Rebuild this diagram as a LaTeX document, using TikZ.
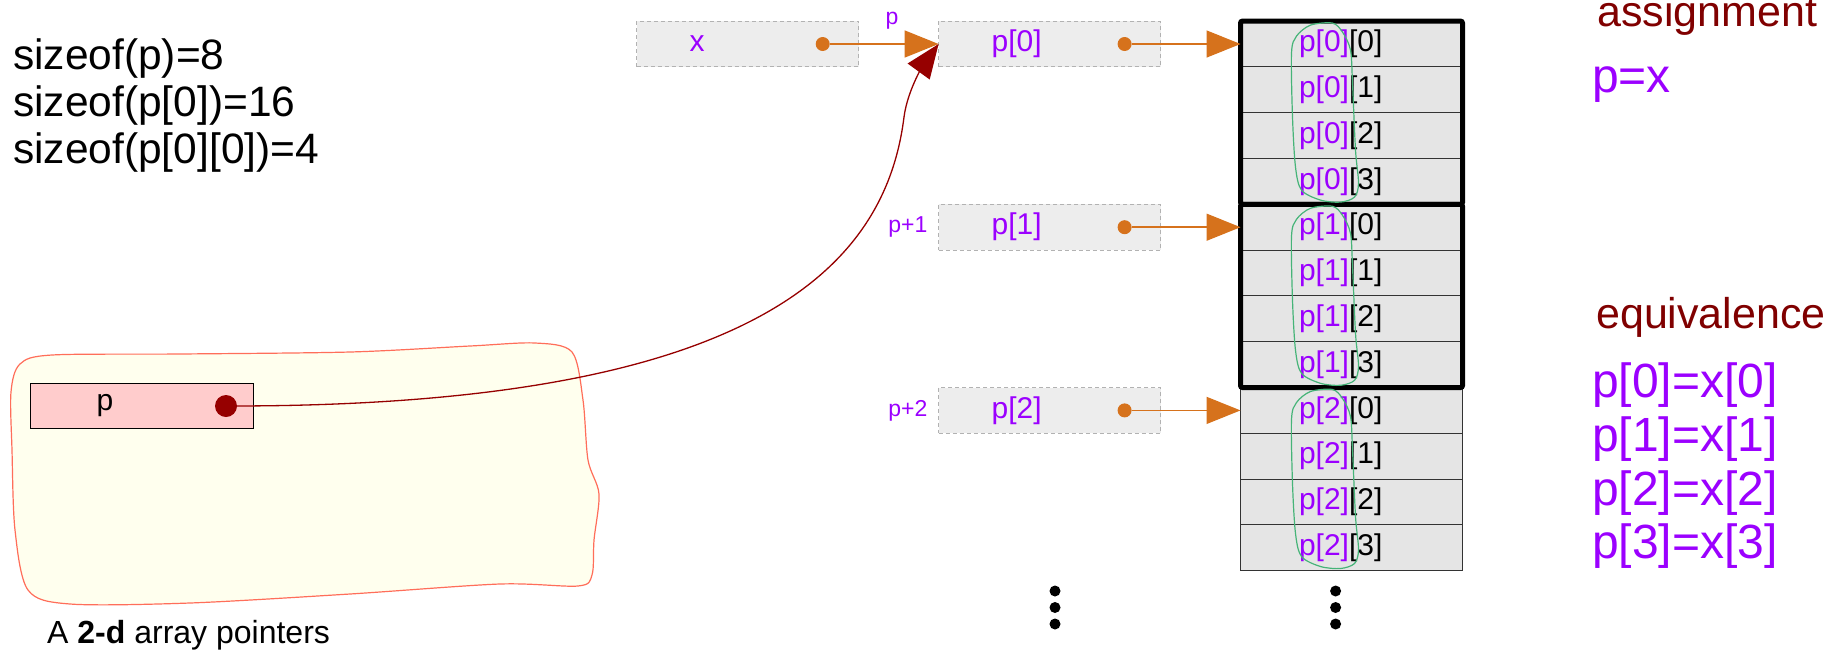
\documentclass[tikz,border=0pt]{standalone}
\usepackage{fontspec}
\setmainfont{Liberation Sans}
\setsansfont{Liberation Sans}
\usetikzlibrary{arrows.meta,positioning,fit,backgrounds}

\definecolor{ptrviolet}{RGB}{155,0,255}
\definecolor{headorange}{RGB}{214,114,28}
\definecolor{darkmaroon}{RGB}{128,0,0}
\definecolor{arrowred}{RGB}{150,0,0}
\definecolor{ringgreen}{RGB}{70,180,120}
\definecolor{blobfill}{RGB}{255,255,238}
\definecolor{blobedge}{RGB}{255,110,90}
\definecolor{pinkfill}{RGB}{255,204,204}

\begin{document}
\begin{tikzpicture}[
  x=1pt, y=-1pt,
  font=\sffamily,
  node distance=0pt,
  cell/.style={
    draw=black!80,
    line width=1.1pt,
    fill=black!10,
    outer sep=0pt,
    minimum width=222pt,
    minimum height=45.8pt,
    text width=105pt,
    inner xsep=58.5pt,
    inner ysep=0pt,
    align=left,
    font=\sffamily\fontsize{30}{35}\selectfont
  },
  ptr/.style={
    draw=black!30,
    dash pattern=on 4pt off 3pt,
    line width=1pt,
    fill=black!7,
    outer sep=0pt,
    minimum width=222pt,
    minimum height=45.8pt,
    text width=116pt,
    inner xsep=53pt,
    inner ysep=0pt,
    align=left,
    text=ptrviolet,
    font=\sffamily\fontsize{30}{35}\selectfont
  },
  pvar/.style={
    draw=black,
    line width=1pt,
    fill=pinkfill,
    minimum width=223pt,
    minimum height=45.8pt,
    text width=91pt,
    inner xsep=66pt,
    inner ysep=0pt,
    align=left,
    font=\sffamily\fontsize{30}{35}\selectfont
  },
  frame/.style={draw=black, line width=5pt, rounded corners=2pt, inner sep=0pt},
  odot/.style={circle, fill=headorange, inner sep=0pt, minimum size=14pt},
  rdot/.style={circle, fill=arrowred, inner sep=0pt, minimum size=22pt},
  vdot/.style={circle, fill=black, inner sep=0pt, minimum size=11pt},
  parrow/.style={-{Triangle[length=34pt,width=27pt]}, line width=1.5pt, draw=headorange},
  rarrow/.style={-{Triangle[length=34pt,width=27pt]}, line width=1.3pt, draw=arrowred},
  ring/.style={draw=ringgreen, line width=1.2pt},
  blob/.style={draw=blobedge, fill=blobfill, line width=1.2pt},
  tag/.style={text=ptrviolet, inner sep=0pt, font=\sffamily\fontsize{23}{27}\selectfont},
  note/.style={anchor=base west, inner sep=0pt, font=\sffamily\fontsize{42.5}{47}\selectfont},
  head/.style={anchor=base west, inner sep=0pt, text=darkmaroon, font=\sffamily\fontsize{43}{48}\selectfont},
  eqn/.style={anchor=base west, inner sep=0pt, text=ptrviolet, font=\sffamily\fontsize{48}{54}\selectfont}
]
\useasboundingbox (0,0) rectangle (1842,649);

\draw[blob] plot[smooth cycle] coordinates {(11,392) (20,364) (52,355) (180,354) (350,352) (470,346) (535,343) (572,352) (583,400) (588,460) (599,494) (594,540) (592,575) (578,586) (500,584) (350,594) (190,603) (70,604) (28,590) (15,530) (12,450)};

\node[note] (sz0) at (13,69.5) {sizeof(p)=8};
\node[note] (sz1) at (13,116.5) {sizeof(p[0])=16};
\node[note] (sz2) at (13,163.5) {sizeof(p[0][0])=4};

\node[pvar] (pbox) at (142,406) {p};
\node[rdot] (pd) at ([xshift=-28pt]pbox.east) {};
\node[anchor=base west, inner sep=0pt, font=\sffamily\fontsize{32}{38}\selectfont] (cap) at (47,643) {A \textbf{2-d} array pointers};

\node[cell] (c00) at (1351.5,44) {\textcolor{ptrviolet}{p[0]}[0]};
\node[cell, below=of c00] (c01) {\textcolor{ptrviolet}{p[0]}[1]};
\node[cell, below=of c01] (c02) {\textcolor{ptrviolet}{p[0]}[2]};
\node[cell, below=of c02] (c03) {\textcolor{ptrviolet}{p[0]}[3]};
\node[cell, below=of c03] (c10) {\textcolor{ptrviolet}{p[1]}[0]};
\node[cell, below=of c10] (c11) {\textcolor{ptrviolet}{p[1]}[1]};
\node[cell, below=of c11] (c12) {\textcolor{ptrviolet}{p[1]}[2]};
\node[cell, below=of c12] (c13) {\textcolor{ptrviolet}{p[1]}[3]};
\node[cell, below=of c13] (c20) {\textcolor{ptrviolet}{p[2]}[0]};
\node[cell, below=of c20] (c21) {\textcolor{ptrviolet}{p[2]}[1]};
\node[cell, below=of c21] (c22) {\textcolor{ptrviolet}{p[2]}[2]};
\node[cell, below=of c22] (c23) {\textcolor{ptrviolet}{p[2]}[3]};

\node[frame, fit=(c00)(c03)] (g0) {};
\node[frame, fit=(c10)(c13)] (g1) {};

\draw[ring, shift={(c00.north west)}] plot[smooth cycle] coordinates {(92,2) (70,4) (56,15) (51,32) (52,96) (55,146) (61,169) (80,179) (100,181) (114,176) (118,162) (115,129) (112,62) (110,29) (102,11)};
\draw[ring, shift={(c10.north west)}] plot[smooth cycle] coordinates {(92,2) (70,4) (56,15) (51,32) (52,96) (55,146) (61,169) (80,179) (100,181) (114,176) (118,162) (115,129) (112,62) (110,29) (102,11)};
\draw[ring, shift={(c20.north west)}] plot[smooth cycle] coordinates {(92,2) (70,4) (56,15) (51,32) (52,96) (55,146) (61,169) (80,179) (100,181) (114,176) (118,162) (115,129) (112,62) (110,29) (102,11)};

\node[ptr] (xbox) at (747.7,44) {x};
\node[ptr] (p0) at (1049.6,44) {p[0]};
\node[ptr] (p1) at (p0 |- c10) {p[1]};
\node[ptr] (p2) at (p0 |- c20) {p[2]};

\node[odot] (xd) at ([xshift=-36pt]xbox.east) {};
\node[odot] (d0) at ([xshift=-36pt]p0.east) {};
\node[odot] (d1) at ([xshift=-36pt]p1.east) {};
\node[odot] (d2) at ([xshift=-36pt]p2.east) {};

\node[tag] (tp) at (892,21) {p};
\node[tag, left=11pt of p1] (tp1) {p+1};
\node[tag, left=11pt of p2] (tp2) {p+2};

\draw[parrow] (xd) -- (p0.west);
\draw[parrow] (d0) -- (c00.west);
\draw[parrow] (d1) -- (c10.west);
\draw[parrow] (d2) -- (c20.west);

\coordinate (rise) at (904,117);
\draw[rarrow] (pd) .. controls (750,405) and (885,270) .. (rise) .. controls (908,87) and (927,60) .. (p0.west);

\node[vdot] (pa) at (1055,591) {};
\node[vdot] (pb) at (1055,607.5) {};
\node[vdot] (pc) at (1055,624) {};
\node[vdot] (ca) at (1335.6,591) {};
\node[vdot] (cb) at (1335.6,607.5) {};
\node[vdot] (cc) at (1335.6,624) {};

\node[head] (assign) at (1597,26) {assignment};
\node[eqn] (pex) at (1592,92) {p=x};
\node[head] (equiv) at (1596,328) {equivalence};
\node[eqn] (eq0) at (1592,397) {p[0]=x[0]};
\node[eqn] (eq1) at (1592,451) {p[1]=x[1]};
\node[eqn] (eq2) at (1592,505) {p[2]=x[2]};
\node[eqn] (eq3) at (1592,558) {p[3]=x[3]};

\end{tikzpicture}
\end{document}
